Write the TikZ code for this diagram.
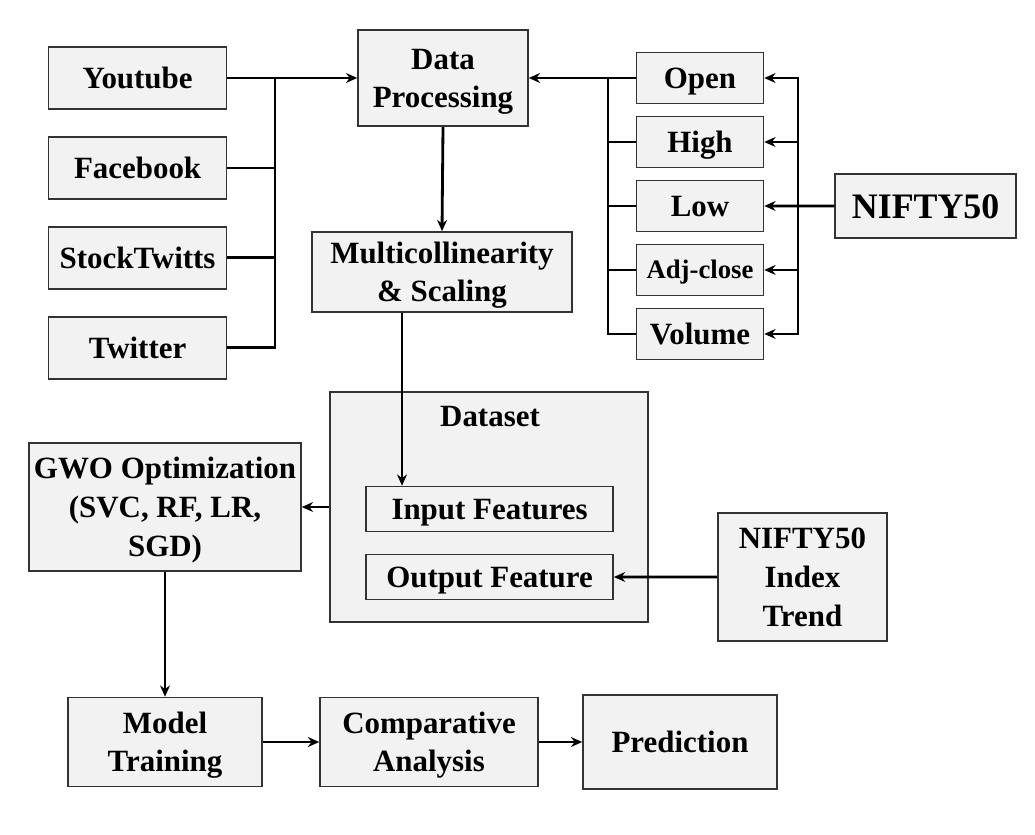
\documentclass[tikz,border=0pt]{standalone}
\usepackage{fontspec}
\setmainfont{Liberation Serif}
\usetikzlibrary{arrows,arrows.meta,positioning,calc}
\definecolor{boxgray}{RGB}{242,242,242}
\newcommand{\boxstrut}{\rule[-0.216em]{0pt}{1.107em}}

\begin{document}
\begin{tikzpicture}[
    >={Stealth[length=8pt,width=7pt]},
    block/.style={rectangle, draw=black!80, line width=1.1pt, fill=boxgray, inner sep=2pt, align=center, font=\fontsize{22}{27.5}\selectfont\bfseries, execute at begin node=\boxstrut, execute at end node=\boxstrut},
    source/.style={block, minimum width=4.45cm, minimum height=1.55cm},
    price/.style={block, minimum width=3.175cm, minimum height=1.275cm},
    feature/.style={block, minimum width=6.175cm, minimum height=1.125cm},
    link/.style={line width=2pt, black}
]

\useasboundingbox (0,0) rectangle (25.875,-20.85);

% Sources
\node[source] (youtube) at (3.44,-1.95) {Youtube};
\node[source, below=0.66cm of youtube] (facebook) {Facebook};
\node[source, below=0.66cm of facebook] (stocktwitts) {StockTwitts};
\node[source, below=0.66cm of stocktwitts] (twitter) {Twitter};

\node[block, minimum width=4.25cm, minimum height=2.4cm] (dp) at (11.075,-1.95) {\boxstrut Data\\Processing};
\node[block, minimum width=6.5cm, minimum height=2cm] (multi) at (11.05,-6.8) {\boxstrut Multicollinearity\\\& Scaling};

% Price features
\node[price] (open) at (17.5,-1.95) {Open};
\node[price, below=0.286cm of open] (high) {High};
\node[price, below=0.286cm of high] (low) {Low};
\node[price, below=0.286cm of low, font=\fontsize{19}{23}\selectfont\bfseries] (adj) {Adj-close};
\node[price, below=0.286cm of adj] (volume) {Volume};
\node[block, minimum width=4.525cm, minimum height=1.6cm, font=\fontsize{25.5}{30}\selectfont\bfseries] (nifty) at (23.14,-5.15) {NIFTY50};

% Dataset
\node[block, minimum width=7.95cm, minimum height=5.75cm] (dataset) at (12.225,-12.675) {};
\node[font=\fontsize{22}{27.5}\selectfont\bfseries] (dslabel) at (12.25,-10.425) {Dataset};
\node[feature] (infeat) at (12.24,-12.725) {Input Features};
\node[feature, below=0.536cm of infeat] (outfeat) {Output Feature};

\node[block, minimum width=6.8cm, minimum height=3.2cm] (gwo) at (4.125,-12.675) {\boxstrut GWO Optimization\\(SVC, RF, LR,\\SGD)};
\node[block, minimum width=4.225cm, minimum height=3.2cm] (trend) at (20.06,-14.425) {\boxstrut NIFTY50\\Index\\Trend};

% Models
\node[block, minimum width=4.85cm, minimum height=2.225cm] (model) at (4.125,-18.55) {\boxstrut Model\\Training};
\node[block, minimum width=5.45cm, minimum height=2.225cm] (comp) at (10.725,-18.55) {\boxstrut Comparative\\Analysis};
\node[block, minimum width=4.85cm, minimum height=2.35cm] (pred) at (17,-18.55) {Prediction};

% Connections
\coordinate (srcbus) at (6.875,-1.95);
\coordinate (pricebus) at (15.2,-1.95);
\coordinate (niftybus) at (19.95,-5.15);

\draw[link, ->] (youtube.east) -- (dp.west);
\draw[link] (facebook.east) -| (srcbus);
\draw[link] (stocktwitts.east) -| (srcbus);
\draw[link] (twitter.east) -| (srcbus);

\draw[link, ->] (open.west) -- (dp.east);
\draw[link] (high.west) -| (pricebus);
\draw[link] (low.west) -| (pricebus);
\draw[link] (adj.west) -| (pricebus);
\draw[link] (volume.west) -| (pricebus);

\draw[link, ->] (nifty.west) -- (low.east);
\draw[link, ->] (niftybus) |- (open.east);
\draw[link, ->] (niftybus) |- (high.east);
\draw[link, ->] (niftybus) |- (adj.east);
\draw[link, ->] (niftybus) |- (volume.east);

\draw[link, ->] (dp.south) -- (multi.north);
\draw[link, ->] ([xshift=-1cm]multi.south) -- ([xshift=-1cm]multi.south |- infeat.north);
\draw[link, ->] (dataset.west) -- (gwo.east);
\draw[link, ->] (trend.west) -- (outfeat.east);
\draw[link, ->] (gwo.south) -- (model.north);
\draw[link, ->] (model.east) -- (comp.west);
\draw[link, ->] (comp.east) -- (pred.west);

\end{tikzpicture}
\end{document}
